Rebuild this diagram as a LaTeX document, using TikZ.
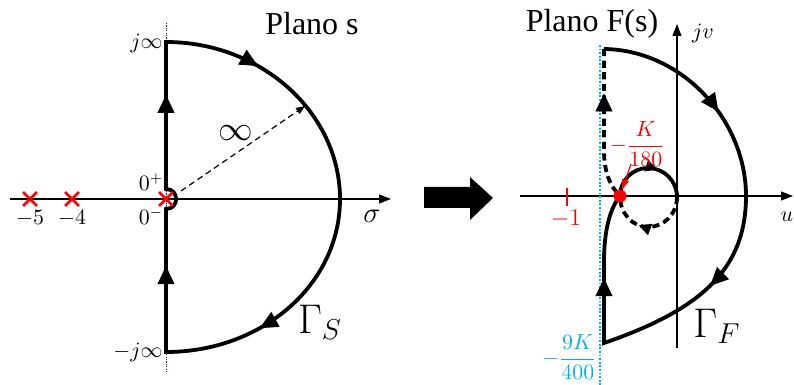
\documentclass[tikz,border=0pt]{standalone}
\usepackage{fontspec}
\setmainfont{Liberation Serif}
\usetikzlibrary{arrows.meta,decorations.markings,shapes.misc}
\definecolor{cyanb}{RGB}{0,176,240}
\definecolor{navyd}{RGB}{20,20,120}
\definecolor{redc}{RGB}{255,0,0}
\begin{document}
\begin{tikzpicture}[x=0.5pt,y=-0.5pt,
  contour/.style={line width=1.9pt},
  dashc/.style={line width=1.9pt, dash pattern=on 3.6pt off 2.2pt},
  axisline/.style={line width=0.6pt,-{Triangle[length=6pt,width=4.5pt]}},
  marr/.style={postaction={decorate},decoration={markings,mark=at position #1 with {\arrow{Triangle[length=9pt,width=8.5pt]}}}},
  smarr/.style={postaction={decorate},decoration={markings,mark=at position #1 with {\arrow{Triangle[length=6pt,width=6pt]}}}},
  pole/.style={cross out, draw=redc, line width=1.4pt, minimum size=5.5pt, inner sep=0pt},
  lbl/.style={inner sep=0pt, font=\fontsize{10.5}{12}\selectfont},
  big/.style={inner sep=0pt, font=\fontsize{16}{18}\selectfont},
  gam/.style={inner sep=0pt, font=\fontsize{20}{22}\selectfont},
  frac/.style={inner sep=0pt, anchor=east, font=\fontsize{10.5}{12}\selectfont},
]
\useasboundingbox (0,0) rectangle (794,385);

% ---------- left: s-plane ----------
\coordinate (sx0) at (10,199);
\coordinate (sx1) at (391,199);
\coordinate (iy0) at (166,23);
\coordinate (iy1) at (166,372);
\draw[axisline] (sx0) -- (sx1);
\draw[navyd, line width=0.3pt, dash pattern=on 0.6pt off 0.6pt] (iy0) -- (iy1);

\coordinate (jinf) at (166,42);
\coordinate (mjinf) at (166,352);
\coordinate (zp) at (166,189);
\coordinate (zm) at (166,209);
\coordinate (sinf) at (340,199);

\draw[contour, line join=miter] (mjinf) -- (zm) .. controls (179.5,209) and (179.5,189) .. (zp) -- (jinf)
   .. controls (262,42) and (340,113.4) .. (sinf)
   .. controls (340,284.6) and (262,352) .. (mjinf) -- cycle;
\path[marr=0.64] (zp) -- (jinf);
\path[marr=0.6] (mjinf) -- (zm);
\path[marr=0.37] (jinf) .. controls (262,42) and (340,113.4) .. (sinf);
\path[marr=0.62] (sinf) .. controls (340,284.6) and (262,352) .. (mjinf);

\coordinate (r0) at (181,191);
\coordinate (r1) at (305,106);
\draw[line width=0.6pt, dash pattern=on 3pt off 2pt, -{Triangle[length=4.5pt,width=3.5pt]}] (r0) -- (r1);

\node[pole] (p5) at (30,199) {};
\node[pole] (p4) at (72,199) {};
\node[pole] (p0) at (166,199) {};

\node[lbl] (l5) at (30,218) {$-5$};
\node[lbl] (l4) at (72,218) {$-4$};
\node[lbl, anchor=east] (ljinf) at (163,43) {$j\infty$};
\node[lbl, anchor=east] (lmjinf) at (163,352) {$-j\infty$};
\node[lbl] (l0p) at (151,182) {$0^{+}$};
\node[lbl] (l0m) at (151,216) {$0^{-}$};
\node[inner sep=0pt, font=\fontsize{14}{16}\selectfont] (lsig) at (372,216) {$\sigma$};
\node[inner sep=0pt, font=\fontsize{16}{18}\selectfont] (linf) at (236,133) {$\infty$};
\node[gam] (lgs) at (320,322) {$\Gamma_S$};
\node[big] (lps) at (312,24) {Plano s};

% ---------- centre arrow ----------
\fill (424,187) -- (470,187) -- (470,177) -- (493,198) -- (470,220) -- (470,208) -- (424,208) -- cycle;

% ---------- right: F(s)-plane ----------
\coordinate (ux0) at (520,196);
\coordinate (ux1) at (793,196);
\coordinate (vy0) at (677,348);
\coordinate (vy1) at (677,24);
\draw[axisline] (ux0) -- (ux1);
\draw[axisline] (vy0) -- (vy1);

\coordinate (bl0) at (600,45);
\coordinate (bl1) at (600,390);
\draw[cyanb, line width=0.9pt, dash pattern=on 0.9pt off 0.9pt] (bl0) -- (bl1);

\coordinate (t0) at (567,188);
\coordinate (t1) at (567,206);
\draw[redc, line width=1.3pt] (t0) -- (t1);

\coordinate (A) at (604,49);
\coordinate (R) at (746,196);
\coordinate (B) at (604,343);
\coordinate (Dc) at (620,196);
\coordinate (L1) at (604,262);
\coordinate (U1) at (604,150);
\coordinate (LR) at (677,197);

% solid: dot -> down -> bottom -> outer arc -> top corner
\draw[contour, line join=miter] (Dc) .. controls (611,207) and (604,228) .. (L1) -- (B)
   .. controls (700,310) and (746,270) .. (R)
   .. controls (746,120) and (682,50) .. (A);
% dashed: top corner -> down -> dot
\draw[dashc] (A) -- (U1) .. controls (604,172) and (610,186) .. (Dc);
% small loop
\draw[contour] (Dc) .. controls (620,181) and (632,168) .. (648,168) .. controls (664,168) and (677,181) .. (LR);
\draw[dashc] (LR) .. controls (677,214) and (664,227) .. (648,227) .. controls (632,227) and (620,213) .. (Dc);

\path[marr=0.8] (B) -- (L1);
\path[marr=0.56] (U1) -- (A);
\path[marr=0.6] (A) .. controls (682,50) and (746,120) .. (R);
\path[marr=0.45] (R) .. controls (746,270) and (700,310) .. (B);
\path[smarr=0.6] (Dc) .. controls (620,181) and (632,168) .. (648,168) .. controls (664,168) and (677,181) .. (LR);
\path[smarr=0.6] (LR) .. controls (677,214) and (664,227) .. (648,227) .. controls (632,227) and (620,213) .. (Dc);

\node[circle, fill=redc, minimum size=6.5pt, inner sep=0pt] (D) at (Dc) {};
\coordinate (ka) at (631,164);
\draw[redc, line width=0.6pt, -{Triangle[length=5pt,width=3.5pt]}] (ka) -- (D);

\node[big] (lpf) at (592,24) {Plano F(s)};
\node[lbl] (ljv) at (703,33) {$jv$};
\node[lbl] (lu) at (787,217) {$u$};
\node[inner sep=0pt, text=redc, font=\fontsize{12}{14}\selectfont] (lm1) at (566,219) {$-1$};
\node[frac, text=redc] (lk) at (665,144) {$-\displaystyle\frac{K}{180}$};
\node[frac, text=cyanb] (l9k) at (597,357) {$-\displaystyle\frac{9K}{400}$};
\node[gam] (lgf) at (717,326) {$\Gamma_F$};
\end{tikzpicture}
\end{document}
